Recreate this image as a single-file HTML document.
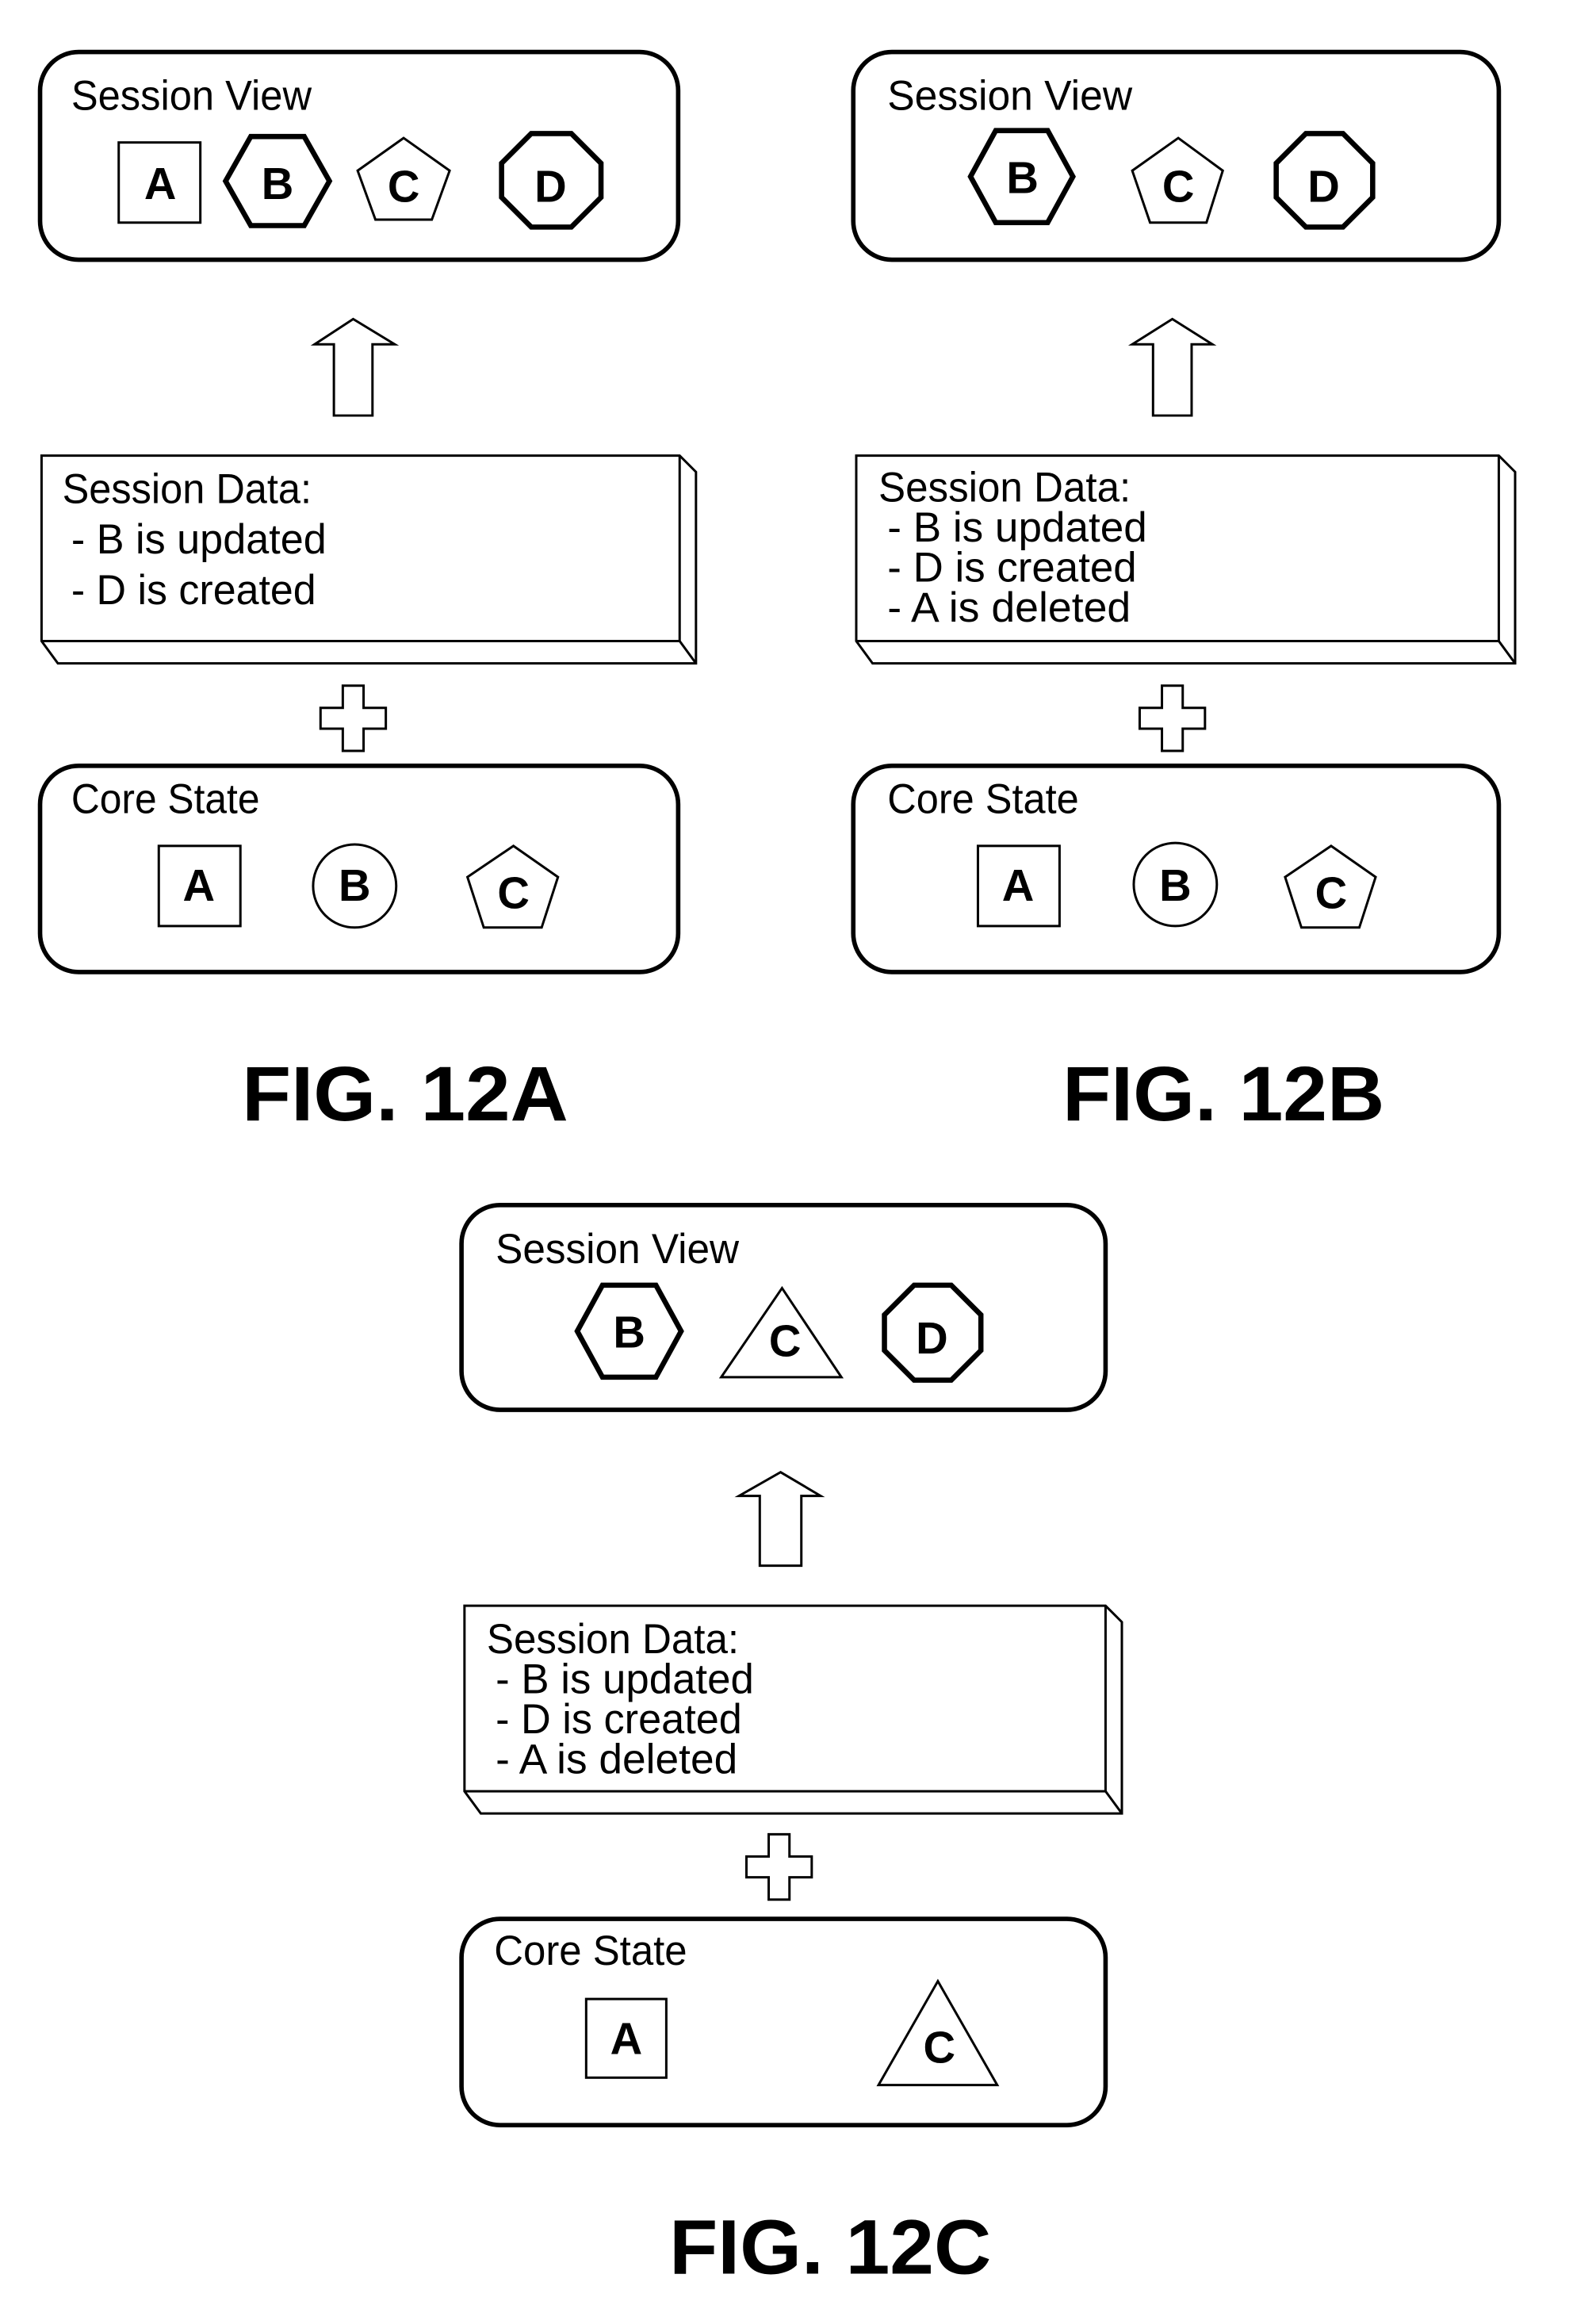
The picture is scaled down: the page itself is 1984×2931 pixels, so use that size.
<!DOCTYPE html>
<html><head><meta charset="utf-8"><style>
html,body{margin:0;padding:0;background:#fff;}
svg{display:block;}
text{font-family:"Liberation Sans",Arial,sans-serif;fill:#000;}
</style></head><body>
<svg width="1984" height="2931" viewBox="0 0 1060 1566" preserveAspectRatio="none" xmlns="http://www.w3.org/2000/svg">
<g fill="none" stroke="#000">
<!-- FIG A -->
<rect x="27" y="35" width="430" height="140" rx="26" stroke-width="3"/>
<rect x="80" y="96" width="55" height="54" stroke-width="1.6"/>
<polygon points="152,122 169,92 205,92 222,122 205,152 169,152" stroke-width="3.5"/>
<polygon points="272,93 303,115 291,148 253,148 241,115" stroke-width="1.6"/>
<polygon points="358,90 385,90 405,110 405,133 385,153 358,153 338,133 338,110" stroke-width="3.5"/>
<polygon points="238,215 266,232 251,232 251,280 225,280 225,232 212,232" stroke-width="1.6"/>
<polygon points="28,307 458,307 469,318 469,447 39,447 28,432" stroke-width="1.6"/>
<polyline points="28,432 458,432 458,307" stroke-width="1.6"/>
<line x1="458" y1="432" x2="469" y2="447" stroke-width="1.6"/>
<polygon points="231,462 245,462 245,477 260,477 260,491 245,491 245,506 231,506 231,491 216,491 216,477 231,477" stroke-width="1.6"/>
<rect x="27" y="516" width="430" height="139" rx="26" stroke-width="3"/>
<rect x="107" y="570" width="55" height="54" stroke-width="1.6"/>
<circle cx="239" cy="597" r="28" stroke-width="1.6"/>
<polygon points="346,570 376,591 365,625 326,625 315,591" stroke-width="1.6"/>
<!-- FIG B -->
<rect x="575" y="35" width="435" height="140" rx="26" stroke-width="3"/>
<polygon points="654,119 671,88 706,88 723,119 706,150 671,150" stroke-width="3.5"/>
<polygon points="794,93 824,115 813,150 775,150 763,115" stroke-width="1.6"/>
<polygon points="880,90 905,90 925,110 925,133 905,153 880,153 860,133 860,110" stroke-width="3.5"/>
<polygon points="790,215 817,232 803,232 803,280 777,280 777,232 763,232" stroke-width="1.6"/>
<polygon points="577,307 1010,307 1021,318 1021,447 588,447 577,432" stroke-width="1.6"/>
<polyline points="577,432 1010,432 1010,307" stroke-width="1.6"/>
<line x1="1010" y1="432" x2="1021" y2="447" stroke-width="1.6"/>
<polygon points="783,462 797,462 797,477 812,477 812,491 797,491 797,506 783,506 783,491 768,491 768,477 783,477" stroke-width="1.6"/>
<rect x="575" y="516" width="435" height="139" rx="26" stroke-width="3"/>
<rect x="659" y="570" width="55" height="54" stroke-width="1.6"/>
<circle cx="792" cy="596" r="28" stroke-width="1.6"/>
<polygon points="897,570 927,591 916,625 877,625 866,591" stroke-width="1.6"/>
<!-- FIG C -->
<rect x="311" y="812" width="434" height="138" rx="26" stroke-width="3"/>
<polygon points="389,897 406,866 442,866 459,897 442,928 406,928" stroke-width="3.5"/>
<polygon points="527,868 567,928 486,928" stroke-width="1.6"/>
<polygon points="616,866 641,866 661,886 661,910 641,930 616,930 596,910 596,886" stroke-width="3.5"/>
<polygon points="526,992 553,1008 540,1008 540,1055 512,1055 512,1008 498,1008" stroke-width="1.6"/>
<polygon points="313,1082 745,1082 756,1093 756,1222 324,1222 313,1207" stroke-width="1.6"/>
<polyline points="313,1207 745,1207 745,1082" stroke-width="1.6"/>
<line x1="745" y1="1207" x2="756" y2="1222" stroke-width="1.6"/>
<polygon points="518,1236 532,1236 532,1251 547,1251 547,1265 532,1265 532,1280 518,1280 518,1265 503,1265 503,1251 518,1251" stroke-width="1.6"/>
<rect x="311" y="1293" width="434" height="139" rx="26" stroke-width="3"/>
<rect x="395" y="1347" width="54" height="53" stroke-width="1.6"/>
<polygon points="632,1335 672,1405 592,1405" stroke-width="1.6"/>
</g>
<g font-size="28">
<text x="48" y="74" textLength="162" lengthAdjust="spacingAndGlyphs">Session View</text>
<text x="42" y="339" textLength="168" lengthAdjust="spacingAndGlyphs">Session Data:</text>
<text x="48" y="373" textLength="172" lengthAdjust="spacingAndGlyphs">- B is updated</text>
<text x="48" y="407" textLength="165" lengthAdjust="spacingAndGlyphs">- D is created</text>
<text x="48" y="548" textLength="127" lengthAdjust="spacingAndGlyphs">Core State</text>

<text x="598" y="74" textLength="165" lengthAdjust="spacingAndGlyphs">Session View</text>
<text x="592" y="338" textLength="170" lengthAdjust="spacingAndGlyphs">Session Data:</text>
<text x="598" y="365" textLength="175" lengthAdjust="spacingAndGlyphs">- B is updated</text>
<text x="598" y="392" textLength="168" lengthAdjust="spacingAndGlyphs">- D is created</text>
<text x="598" y="419" textLength="164" lengthAdjust="spacingAndGlyphs">- A is deleted</text>
<text x="598" y="548" textLength="129" lengthAdjust="spacingAndGlyphs">Core State</text>

<text x="334" y="851" textLength="164" lengthAdjust="spacingAndGlyphs">Session View</text>
<text x="328" y="1114" textLength="170" lengthAdjust="spacingAndGlyphs">Session Data:</text>
<text x="334" y="1141" textLength="174" lengthAdjust="spacingAndGlyphs">- B is updated</text>
<text x="334" y="1168" textLength="166" lengthAdjust="spacingAndGlyphs">- D is created</text>
<text x="334" y="1195" textLength="163" lengthAdjust="spacingAndGlyphs">- A is deleted</text>
<text x="333" y="1324" textLength="130" lengthAdjust="spacingAndGlyphs">Core State</text>
</g>
<g font-size="30" font-weight="bold" text-anchor="middle">
<text x="108" y="134">A</text><text x="187" y="134">B</text><text x="272" y="136">C</text><text x="371" y="136">D</text>
<text x="134" y="607">A</text><text x="239" y="607">B</text><text x="346" y="612">C</text>
<text x="689" y="130">B</text><text x="794" y="136">C</text><text x="892" y="136">D</text>
<text x="686" y="607">A</text><text x="792" y="607">B</text><text x="897" y="612">C</text>
<text x="424" y="908">B</text><text x="529" y="914">C</text><text x="628" y="912">D</text>
<text x="422" y="1384">A</text><text x="633" y="1390">C</text>
</g>
<g font-size="52" font-weight="bold">
<text x="163" y="755" textLength="220" lengthAdjust="spacingAndGlyphs">FIG. 12A</text>
<text x="716" y="755" textLength="217" lengthAdjust="spacingAndGlyphs">FIG. 12B</text>
<text x="451" y="1532" textLength="217" lengthAdjust="spacingAndGlyphs">FIG. 12C</text>
</g>
</svg>
</body></html>
